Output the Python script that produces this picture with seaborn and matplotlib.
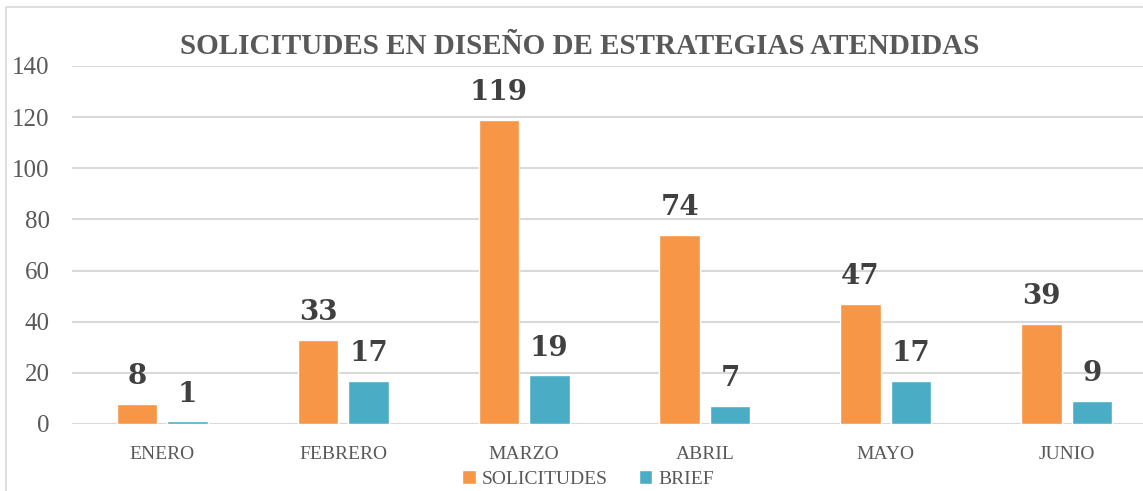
import numpy as np
import pandas as pd
import matplotlib
matplotlib.use("Agg")
import matplotlib.pyplot as plt
import seaborn as sns

# Data
months = ["ENERO", "FEBRERO", "MARZO", "ABRIL", "MAYO", "JUNIO"]
solicitudes = [8, 33, 119, 74, 47, 39]
brief = [1, 17, 19, 7, 17, 9]
series_names = ["SOLICITUDES", "BRIEF"]
series_colors = ["#F79646", "#4BACC6"]
y_ticks = [0, 20, 40, 60, 80, 100, 120, 140]

df = pd.DataFrame({"Mes": months * 2,
                   "Valor": solicitudes + brief,
                   "Serie": [series_names[0]] * len(months) + [series_names[1]] * len(months)})

sns.set_style("white")
plt.rcParams['font.family'] = ['Liberation Serif', 'DejaVu Serif']

fig = plt.figure(figsize=(11.43, 4.91), dpi=100)
# plot area runs a bit past the right edge, like the original
ax = fig.add_axes([72/1143, 1 - 424/491, 1085/1143, (424 - 66)/491])

sns.barplot(data=df, x="Mes", y="Valor", hue="Serie", palette=series_colors,
            width=0.559, gap=0.2, ax=ax, legend=True, saturation=1)

# Value labels on bars
for cont in ax.containers:
    ax.bar_label(cont, padding=10, fontsize=20, fontweight='bold', color='#404040',
                 family='DejaVu Serif')

ax.set_ylim(0, 140)
ax.set_yticks(y_ticks)
ax.set_xlim(-0.5, len(months) - 0.5)
ax.yaxis.grid(True, color='#D9D9D9', linewidth=1.5)
ax.set_axisbelow(True)
for s in ax.spines.values():
    s.set_visible(False)
ax.tick_params(axis='y', labelsize=18, labelcolor='#595959', length=0, pad=16)
ax.tick_params(axis='x', labelsize=14, labelcolor='#595959', length=0, pad=16)
ax.set_xlabel('')
ax.set_ylabel('')

# Legend at bottom
ax.get_legend().remove()
handles, labels = ax.get_legend_handles_labels()
fig.legend(handles, labels, loc='center', bbox_to_anchor=(588/1143, 1 - 479/491), ncol=2,
           frameon=False, prop={'family': 'Liberation Serif', 'size': 14},
           handlelength=0.7, handleheight=0.7, handletextpad=0.3,
           columnspacing=1.6, labelcolor='#595959')

fig.text(580/1143, 1 - 47/491, "SOLICITUDES EN DISEÑO DE ESTRATEGIAS ATENDIDAS",
         ha='center', va='center', fontsize=21, fontweight='bold', color='#595959')

# Chart border
fig.add_artist(plt.Rectangle((6/1143, -0.01), 1.0, 1 - 7/491 + 0.01, transform=fig.transFigure,
                             fill=False, edgecolor='#D9D9D9', linewidth=1.2))

plt.savefig("out.png", dpi=100)
